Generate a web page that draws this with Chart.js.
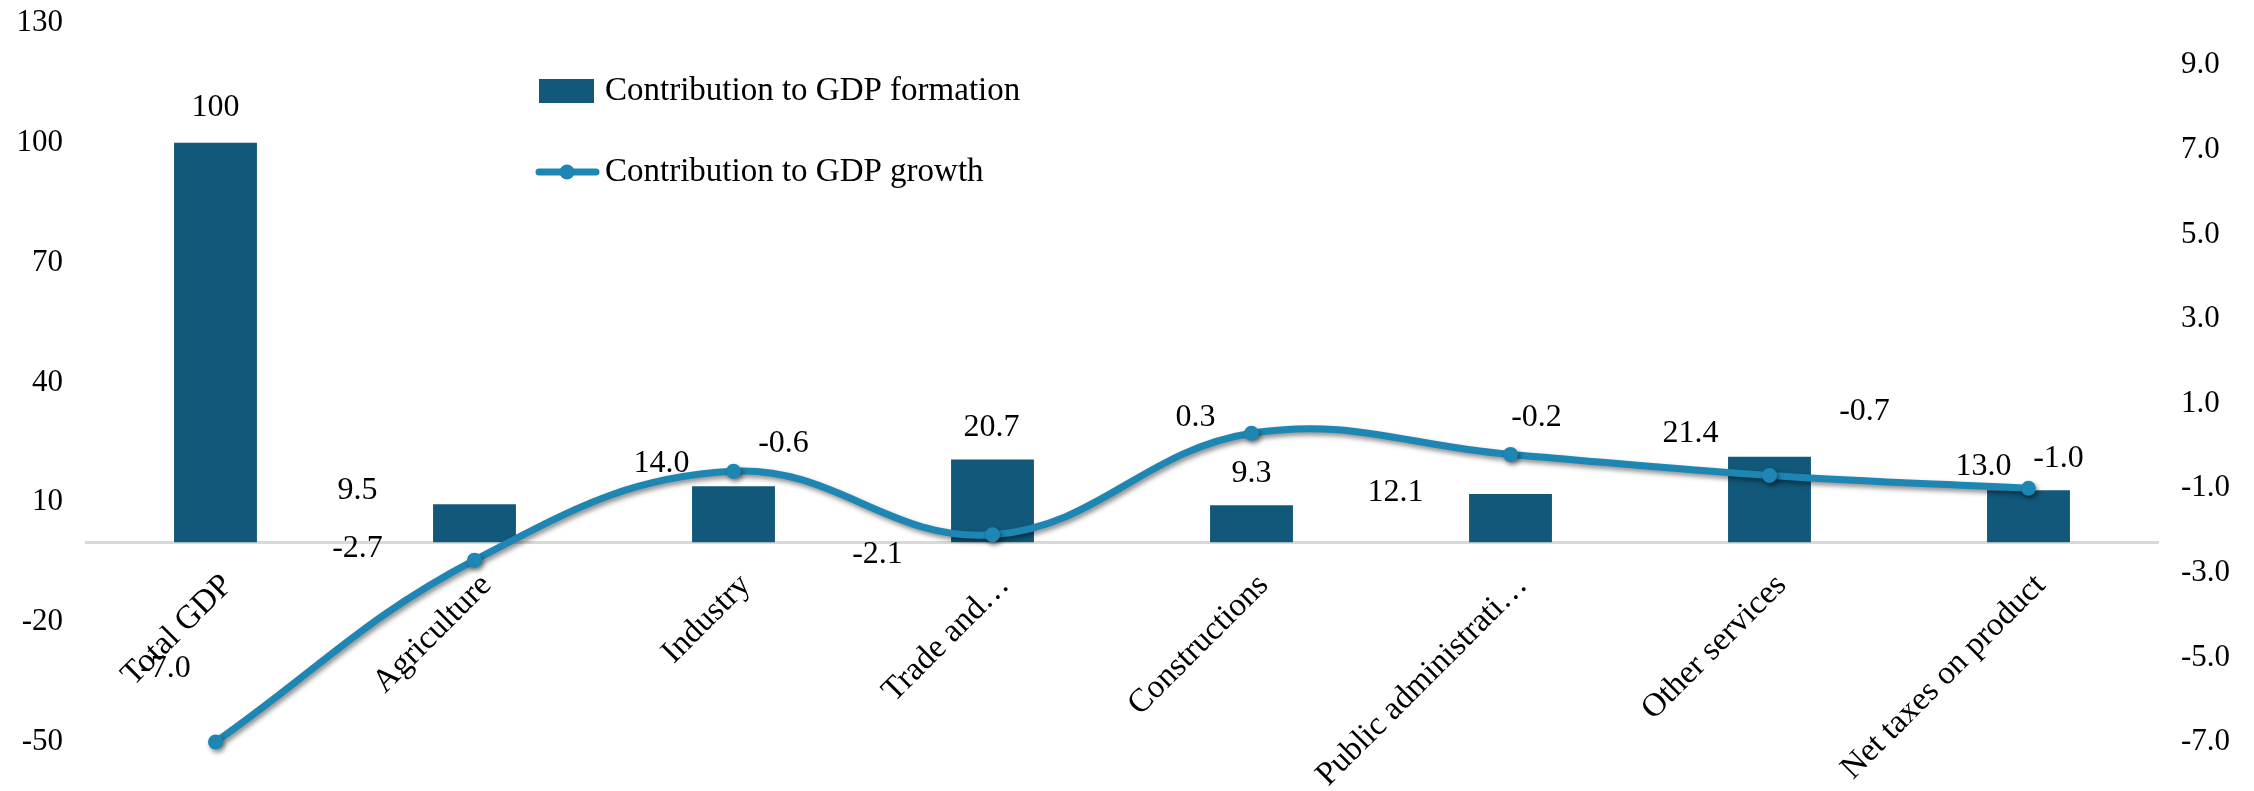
<!DOCTYPE html>
<html>
<head>
<meta charset="utf-8">
<script src="https://cdn.jsdelivr.net/npm/chart.js@4.4.1/dist/chart.umd.min.js"></script>
<style>
  html, body { margin: 0; padding: 0; background: #fff; }
  #wrap { width: 2254px; height: 791px; position: relative; }
</style>
</head>
<body>
<div id="wrap"><canvas id="gdpChart"></canvas></div>
<script>
const sectors = ['Total GDP', 'Agriculture', 'Industry', 'Trade and…', 'Constructions', 'Public administrati…', 'Other services', 'Net taxes on product'];
const formationShare = [100, 9.5, 14.0, 20.7, 9.3, 12.1, 21.4, 13.0];
const growthContribution = [-7.0, -2.7, -0.6, -2.1, 0.3, -0.2, -0.7, -1.0];
const leftTicks = [-50, -20, 10, 40, 70, 100, 130];
const rightTicks = [-7, -5, -3, -1, 1, 3, 5, 7, 9];

// hand-placed value labels: pixel nudge from bar top / line point
const barLabelShift = [[0, -35], [-117, -14], [-72, -23], [-1, -32], [0, -32], [-115, -1], [-79, -23], [-45, -24]];
const lineLabelShift = [[-50, -73], [-117, -12], [50, -28], [-115, 20], [-56, -16], [26, -37], [95, -64], [30, -30]];

const SERIF = "'Liberation Serif', 'Times New Roman', serif";
const BAR_COLOR = '#12587a';
const LINE_COLOR = '#1d86b3';

// soft drop shadow under the growth line
const lineShadow = {
  id: 'lineShadow',
  beforeDatasetDraw(chart, args) {
    if (args.meta.type !== 'line') return;
    const ctx = chart.ctx;
    ctx.save();
    ctx.shadowColor = 'rgba(0, 0, 0, 0.45)';
    ctx.shadowBlur = 5;
    ctx.shadowOffsetX = 2;
    ctx.shadowOffsetY = 3;
  },
  afterDatasetDraw(chart, args) {
    if (args.meta.type !== 'line') return;
    chart.ctx.restore();
  }
};

const valueLabels = {
  id: 'valueLabels',
  afterDatasetsDraw(chart) {
    const ctx = chart.ctx;
    ctx.save();
    ctx.font = '32px ' + SERIF;
    ctx.fillStyle = '#000';
    ctx.textAlign = 'center';
    ctx.textBaseline = 'middle';
    chart.getDatasetMeta(1).data.forEach((bar, i) => {
      const v = formationShare[i];
      const txt = v === 100 ? '100' : v.toFixed(1);
      ctx.fillText(txt, bar.x + barLabelShift[i][0], bar.y + barLabelShift[i][1]);
    });
    chart.getDatasetMeta(0).data.forEach((pt, i) => {
      ctx.fillText(growthContribution[i].toFixed(1), pt.x + lineLabelShift[i][0], pt.y + lineLabelShift[i][1]);
    });
    ctx.restore();
  }
};

// two-row legend sitting inside the plot
const stackedLegend = {
  id: 'stackedLegend',
  afterDraw(chart) {
    const ctx = chart.ctx;
    const x0 = chart.chartArea.left + 453;
    ctx.save();
    ctx.fillStyle = BAR_COLOR;
    ctx.fillRect(x0, 79, 55, 24);
    ctx.strokeStyle = LINE_COLOR;
    ctx.lineWidth = 7;
    ctx.lineCap = 'round';
    ctx.beginPath();
    ctx.moveTo(x0, 172);
    ctx.lineTo(x0 + 57, 172);
    ctx.stroke();
    ctx.fillStyle = LINE_COLOR;
    ctx.beginPath();
    ctx.arc(x0 + 28, 172, 7.5, 0, Math.PI * 2);
    ctx.fill();
    ctx.fillStyle = '#000';
    ctx.font = '33px ' + SERIF;
    ctx.textBaseline = 'middle';
    ctx.fillText(chart.data.datasets[1].label, x0 + 66, 91);
    ctx.fillText(chart.data.datasets[0].label, x0 + 66, 172);
    ctx.restore();
  }
};

// y axes: fixed widths, no extra label padding above/below the plot
const fixAxis = width => s => {
  s.width = width;
  s.paddingTop = 0;
  s.paddingBottom = 0;
};

new Chart(document.getElementById('gdpChart'), {
  data: {
    labels: sectors,
    datasets: [{
      type: 'line',
      label: 'Contribution to GDP growth',
      data: growthContribution,
      yAxisID: 'y1',
      borderColor: LINE_COLOR,
      backgroundColor: LINE_COLOR,
      borderWidth: 7,
      tension: 0.4,
      pointRadius: 7.5,
      pointBorderWidth: 0,
      pointBackgroundColor: LINE_COLOR,
      clip: false
    }, {
      type: 'bar',
      label: 'Contribution to GDP formation',
      data: formationShare,
      yAxisID: 'y',
      backgroundColor: BAR_COLOR,
      barPercentage: 0.32,
      categoryPercentage: 1
    }]
  },
  options: {
    responsive: true,
    maintainAspectRatio: false,
    animation: false,
    layout: { padding: { left: 0, right: 0, top: 23, bottom: 49 } },
    plugins: {
      legend: { display: false },
      tooltip: { enabled: false }
    },
    scales: {
      x: {
        position: { y: 0 },
        grid: { display: false, drawTicks: false },
        border: { display: true, color: '#d9d9d9', width: 3 },
        ticks: {
          autoSkip: false,
          minRotation: 45,
          maxRotation: 45,
          padding: 24,
          labelOffset: 12,
          color: '#000',
          font: { family: SERIF, size: 33 }
        }
      },
      y: {
        position: 'left',
        min: -50,
        max: 130,
        grid: { display: false, drawTicks: false },
        border: { display: false },
        afterBuildTicks: s => { s.ticks = leftTicks.map(v => ({ value: v })); },
        afterFit: fixAxis(86),
        ticks: { padding: 23, color: '#000', font: { family: SERIF, size: 31 } }
      },
      y1: {
        position: 'right',
        min: -7,
        max: 10,
        grid: { display: false, drawTicks: false },
        border: { display: false },
        afterBuildTicks: s => { s.ticks = rightTicks.map(v => ({ value: v })); },
        afterFit: fixAxis(96),
        ticks: {
          padding: 23,
          color: '#000',
          font: { family: SERIF, size: 31 },
          callback: v => v.toFixed(1)
        }
      }
    }
  },
  plugins: [lineShadow, valueLabels, stackedLegend]
});
</script>
</body>
</html>
